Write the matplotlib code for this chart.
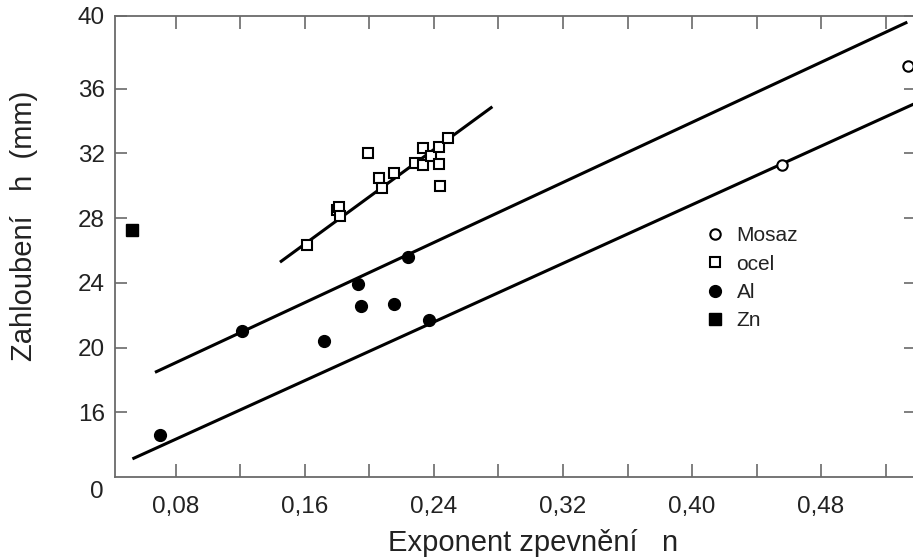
import matplotlib

matplotlib.use("Agg")
import matplotlib.pyplot as plt

plt.rcParams["font.family"] = ["Liberation Sans", "DejaVu Sans"]

# --- data -----------------------------------------------------------------
mosaz_n = [0.456, 0.534]
mosaz_h = [31.26, 37.4]

ocel_n = [0.161, 0.180, 0.181, 0.182, 0.199, 0.206, 0.208, 0.215,
          0.228, 0.233, 0.233, 0.238, 0.243, 0.243, 0.244, 0.249]
ocel_h = [26.35, 28.49, 28.70, 28.12, 32.02, 30.47, 29.88, 30.81,
          31.42, 32.33, 31.26, 31.87, 32.41, 31.38, 29.98, 32.94]

al_n = [0.070, 0.121, 0.172, 0.193, 0.195, 0.215, 0.224, 0.237]
al_h = [14.58, 21.01, 20.43, 23.96, 22.60, 22.70, 25.59, 21.73]

zn_n = [0.053]
zn_h = [27.3]

# fitted lines: (n_start, n_end), (h_start, h_end)
line_ocel_n = [0.1445, 0.2762]
line_ocel_h = [25.28, 34.89]
line_upper_n = [0.067, 0.5335]
line_upper_h = [18.47, 40.12]
line_lower_n = [0.053, 0.5389]
line_lower_h = [13.12, 35.12]

x_ticks = [0.08, 0.12, 0.16, 0.20, 0.24, 0.28, 0.32, 0.36, 0.40, 0.44, 0.48, 0.52]
x_labels = ["0,08", "", "0,16", "", "0,24", "", "0,32", "", "0,40", "", "0,48", ""]
y_ticks = [16, 20, 24, 28, 32, 36, 40.5]
y_labels = ["16", "20", "24", "28", "32", "36", "40"]

ink = "#222222"
spine = "#6a6a6a"

fig = plt.figure(figsize=(9.13, 5.59), dpi=100)
ax = fig.add_axes([0.1256, 0.1467, 0.8777, 0.8247])

ax.plot(line_ocel_n, line_ocel_h, color="black", lw=2.2, solid_capstyle="butt")
ax.plot(line_upper_n, line_upper_h, color="black", lw=2.2, solid_capstyle="butt")
ax.plot(line_lower_n, line_lower_h, color="black", lw=2.2, solid_capstyle="butt")

ax.plot(mosaz_n, mosaz_h, "o", ms=7.5, mfc="white", mec="black", mew=1.5,
        ls="none", label="Mosaz", clip_on=False)
ax.plot(ocel_n, ocel_h, "s", ms=7.5, mfc="white", mec="black", mew=1.5,
        ls="none", label="ocel")
ax.plot(al_n, al_h, "o", ms=8.5, color="black", ls="none", label="Al")
ax.plot(zn_n, zn_h, "s", ms=8, color="black", ls="none", label="Zn")

ax.set_xlim(0.042, 0.5389)
ax.set_ylim(12.0, 40.5)

ax.set_xticks(x_ticks)
ax.set_xticklabels(x_labels)
ax.set_yticks(y_ticks)
ax.set_yticklabels(y_labels)
ax.tick_params(axis="x", direction="in", length=9.5, width=1.2, color=spine,
               top=True, pad=13.5, labelsize=17.5, labelcolor=ink)
ax.tick_params(axis="y", direction="in", length=8.5, width=1.2, color=spine,
               right=True, pad=7, labelsize=17.5, labelcolor=ink)
for s in ax.spines.values():
    s.set_color(spine)
    s.set_linewidth(1.3)

# broken-axis origin label
ax.text(-0.014, -0.033, "0", transform=ax.transAxes, ha="right", va="center",
        fontsize=17.5, color=ink)

ax.set_xlabel("Exponent zpevnění   n", fontsize=21, color=ink)
ax.xaxis.label.set_va("baseline")
ax.xaxis.label.set_ha("left")
ax.xaxis.set_label_coords(0.341, -0.1605)
ax.set_ylabel("Zahloubení   h  (mm)", fontsize=21, color=ink)
ax.yaxis.label.set_ha("center")
ax.yaxis.label.set_va("center")
ax.yaxis.set_label_coords(-0.113, 0.5445)

ax.legend(loc="upper left", bbox_to_anchor=(0.7305, 0.562), frameon=False,
          fontsize=15, handlelength=0.6, handletextpad=0.75, labelspacing=0.45,
          borderaxespad=0, labelcolor=ink)

fig.savefig("out.png", dpi=100)
